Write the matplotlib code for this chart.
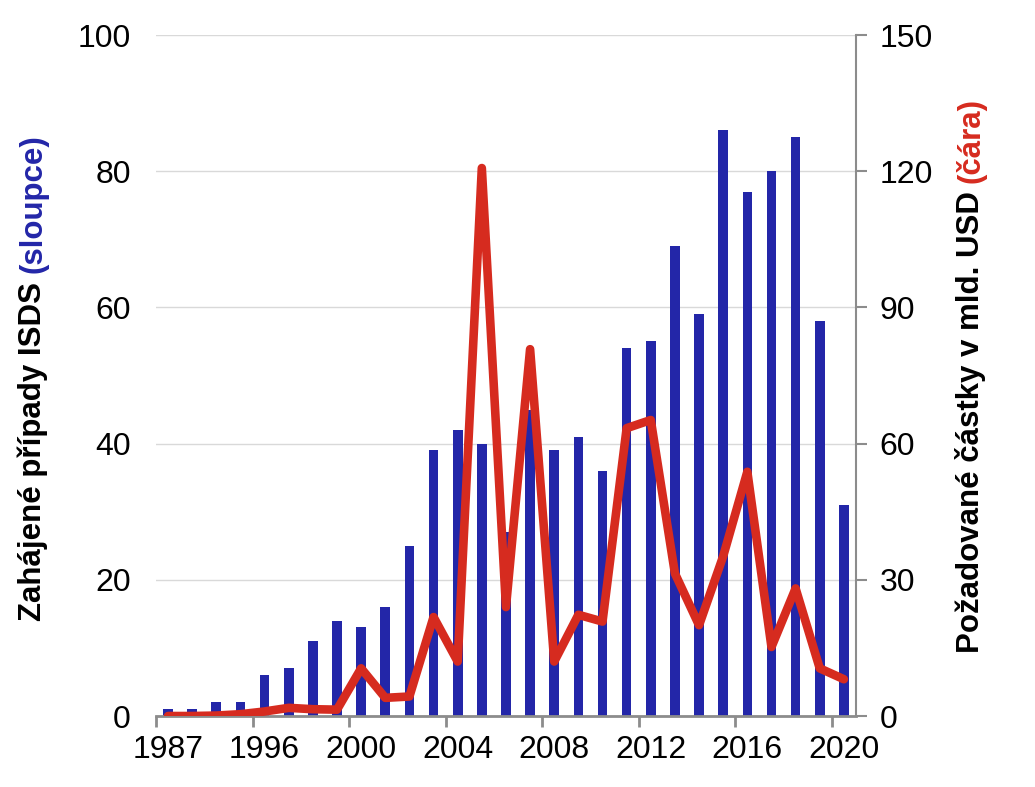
import matplotlib
matplotlib.use("Agg")
import matplotlib.pyplot as plt
import numpy as np

# Data
years = ["1987", "1993", "1994", "1995"] + [str(y) for y in range(1996, 2021)]
cases = [1, 1, 2, 2, 6, 7, 11, 14, 13, 16, 25, 39, 42, 40, 27, 45, 39, 41, 36,
         54, 55, 69, 59, 86, 77, 80, 85, 58, 31]
amounts = [0, 0, 0.1, 0.4, 1.0, 1.8, 1.5, 1.4, 10.5, 4.0, 4.3, 21.8, 12.0, 120.7,
           24.0, 80.8, 12.0, 22.3, 20.8, 63.4, 65.2, 31.4, 20.0, 35.2, 53.8, 15.2,
           28.1, 10.5, 8.1]
left_ticks = [0, 20, 40, 60, 80, 100]
right_ticks = [0, 30, 60, 90, 120, 150]

BLUE = "#2326a8"
RED = "#d62b1f"
GREY = "#8c8c8c"
TICK_SIZE = 23
LABEL_SIZE = 22.5

plt.rcParams["font.family"] = ["Liberation Sans", "DejaVu Sans"]

fig = plt.figure(figsize=(10.35, 7.87), dpi=100)
ax = fig.add_axes([0.1507, 0.0902, 0.6763, 0.8653])
ax2 = ax.twinx()

x = np.arange(len(years))
ax.bar(x, cases, width=0.4, color=BLUE, zorder=2)
ax.set_xlim(-0.5, len(years) - 0.5)
ax.set_ylim(0, 100)
ax.set_yticks(left_ticks)
ax.grid(axis="y", color="#d9d9d9", linewidth=1, zorder=0)
ax.set_axisbelow(True)

# x ticks: marks at category boundaries, labels under every 4th category
ax.set_xticks(np.arange(-0.5, len(years), 4))
ax.set_xticklabels([])
ax.set_xticks(x[::4], minor=True)
ax.set_xticklabels([years[i] for i in x[::4]], minor=True)
ax.tick_params(axis="x", which="major", length=8, width=2, color=GREY, direction="out")
ax.tick_params(axis="x", which="minor", length=0, labelsize=TICK_SIZE, pad=14)
ax.tick_params(axis="y", length=0, labelsize=TICK_SIZE, pad=18)

for side in ("top", "left", "right"):
    ax.spines[side].set_visible(False)
ax.spines["bottom"].set_color(GREY)
ax.spines["bottom"].set_linewidth(2)

ax2.plot(x, amounts, color=RED, linewidth=6.2, solid_joinstyle="round",
         solid_capstyle="round", zorder=3)
ax2.set_ylim(0, 150)
ax2.set_yticks(right_ticks)
ax2.tick_params(axis="y", length=8, width=1.5, color=GREY, labelsize=TICK_SIZE, pad=9)
for side in ("top", "left", "bottom"):
    ax2.spines[side].set_visible(False)
ax2.spines["right"].set_color(GREY)
ax2.spines["right"].set_linewidth(1.5)


def two_color_label(xc, yc, parts):
    """Vertical label made of differently coloured pieces, centred at (xc, yc)."""
    texts = [fig.text(xc, yc, s, color=c, rotation=90, ha="center", va="bottom",
                      fontsize=LABEL_SIZE, fontweight="bold")
             for s, c in parts]
    fig.canvas.draw()
    r = fig.canvas.get_renderer()
    heights = [t.get_window_extent(r).height / fig.bbox.height for t in texts]
    y = yc - sum(heights) / 2
    for t, h in zip(texts, heights):
        t.set_y(y)
        y += h


two_color_label(0.032, 0.52, [("Zahájené případy ISDS\u00a0", "black"), ("(sloupce)", BLUE)])
two_color_label(0.938, 0.523, [("Požadované částky v mld. USD\u00a0", "black"), ("(čára)", RED)])

fig.savefig("out.png", dpi=100)
